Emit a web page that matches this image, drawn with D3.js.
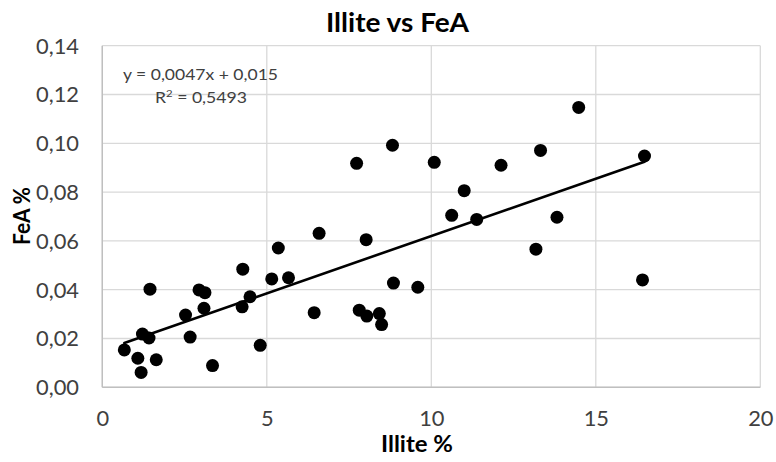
<!DOCTYPE html>
<html><head><meta charset="utf-8">
<script src="https://cdn.jsdelivr.net/npm/d3@7"></script>
<style>body{margin:0;background:#fff}svg{display:block}text{font-family:Lato,"Open Sans",sans-serif}</style>
</head><body><svg id="c" width="776" height="462"></svg>
<script>
const illite = [0.67,1.08,1.18,1.22,1.42,1.45,1.64,2.53,2.67,2.94,3.12,3.09,3.35,4.27,4.25,4.49,4.80,5.15,5.35,5.66,6.44,6.59,
  7.73,8.82,10.09,11.0,12.12,13.32,14.48,
  8.02,8.85,9.59,7.81,8.04,8.42,8.49,10.62,11.38,13.18,13.82,16.48,16.42];
const feA = [0.0153,0.0119,0.0061,0.0218,0.0202,0.0402,0.0113,0.0296,0.0206,0.0399,0.0388,0.0324,0.0089,0.0484,0.0330,0.0371,0.0172,0.0444,0.0571,0.0449,0.0306,0.0631,
  0.0918,0.0992,0.0922,0.0806,0.0910,0.0971,0.1147,
  0.0605,0.0427,0.0410,0.0316,0.0292,0.0302,0.0257,0.0705,0.0688,0.0566,0.0697,0.0948,0.0440];
const xTicks = [0,5,10,15,20];
const yTicks = [0,0.02,0.04,0.06,0.08,0.10,0.12,0.14];
const slope = 0.0047, intercept = 0.015;
const title = "Illite vs FeA", xTitle = "Illite %", yTitle = "FeA %";
const eqText = "y = 0,0047x + 0,015";

const svg = d3.select("#c");
const L = 102.3, R = 760.3, T = 45.7, B = 387.3;
const x = d3.scaleLinear().domain([0,20]).range([L,R]);
const y = d3.scaleLinear().domain([0,0.14]).range([B,T]);
const fmtY = v => d3.format(".2f")(v).replace(".", ",");

// squeeze Lato to Calibri-like width
function squeeze(sel, factor){
  sel.each(function(){
    const w = this.getComputedTextLength();
    this.setAttribute("textLength", w*factor);
    this.setAttribute("lengthAdjust","spacingAndGlyphs");
  });
}
function fitTo(sel, target){
  const w = sel.node().getComputedTextLength();
  sel.attr("textLength", target).attr("lengthAdjust","spacingAndGlyphs");
}

// grid
svg.append("g").selectAll("line").data(yTicks).join("line")
  .attr("x1",L).attr("x2",R).attr("y1",d=>y(d)).attr("y2",d=>y(d))
  .attr("stroke","#d9d9d9").attr("stroke-width",1.3);
svg.append("g").selectAll("line").data(xTicks).join("line")
  .attr("y1",T).attr("y2",B).attr("x1",d=>x(d)).attr("x2",d=>x(d))
  .attr("stroke","#d9d9d9").attr("stroke-width",1.3);
svg.append("line").attr("x1",L).attr("x2",R).attr("y1",B).attr("y2",B).attr("stroke","#bfbfbf").attr("stroke-width",1.4);
svg.append("line").attr("x1",L).attr("x2",L).attr("y1",T).attr("y2",B).attr("stroke","#bfbfbf").attr("stroke-width",1.4);

// axes
const ya = svg.append("g").attr("transform",`translate(${L},0)`)
  .call(d3.axisLeft(y).tickValues(yTicks).tickFormat(fmtY).tickSize(0).tickPadding(23.3));
ya.select(".domain").remove();
ya.selectAll("text").attr("font-size",21).attr("fill","#404040").attr("dy","0.35em")
  .style("font-family",'Lato,"Open Sans",sans-serif');
const yt = ya.selectAll("text");
const yf = 43 / yt.nodes()[yt.size()-1].getComputedTextLength();
squeeze(yt, yf);

const xa = svg.append("g").attr("transform",`translate(0,${B})`)
  .call(d3.axisBottom(x).tickValues(xTicks).tickFormat(d3.format("d")).tickSize(0).tickPadding(24));
xa.select(".domain").remove();
xa.selectAll("text").attr("font-size",21).attr("fill","#404040")
  .style("font-family",'Lato,"Open Sans",sans-serif');
squeeze(xa.selectAll("text"), yf);

// trend line
const xmin = d3.min(illite), xmax = d3.max(illite);
svg.append("line").attr("x1",x(xmin)).attr("y1",y(slope*xmin+intercept))
  .attr("x2",x(xmax)).attr("y2",y(slope*xmax+intercept))
  .attr("stroke","#000").attr("stroke-width",2.6).attr("stroke-linecap","round");

// points
svg.append("g").selectAll("circle").data(illite).join("circle")
  .attr("cx",d=>x(d)).attr("cy",(d,i)=>y(feA[i])).attr("r",6.5).attr("fill","#000");

// texts
const tt = svg.append("text").attr("x",397.5).attr("y",32).attr("text-anchor","middle")
  .attr("font-size",26.5).attr("font-weight","bold").attr("fill","#000").text(title);
fitTo(tt,143);
const xt = svg.append("text").attr("x",417).attr("y",452).attr("text-anchor","middle")
  .attr("font-size",22).attr("font-weight","bold").attr("fill","#000").text(xTitle);
fitTo(xt,72);
const ytt = svg.append("text").attr("transform","translate(30,216) rotate(-90)").attr("text-anchor","middle")
  .attr("font-size",22).attr("font-weight","bold").attr("fill","#000").text(yTitle);
fitTo(ytt,58);
const eq = svg.append("text").attr("x",123).attr("y",80).attr("font-size",15.5).attr("fill","#404040").text(eqText);
fitTo(eq,155);
const r2 = svg.append("text").attr("x",155).attr("y",103).attr("font-size",15.5).attr("fill","#404040");
r2.append("tspan").text("R");
r2.append("tspan").attr("font-size",10).attr("dy",-6).text("2");
r2.append("tspan").attr("dy",6).text(" = 0,5493");
const rw = r2.node().getComputedTextLength();
r2.selectAll("tspan").each(function(){
  const w = this.getComputedTextLength();
  this.setAttribute("textLength", w*92/rw);
  this.setAttribute("lengthAdjust","spacingAndGlyphs");
});
</script></body></html>
